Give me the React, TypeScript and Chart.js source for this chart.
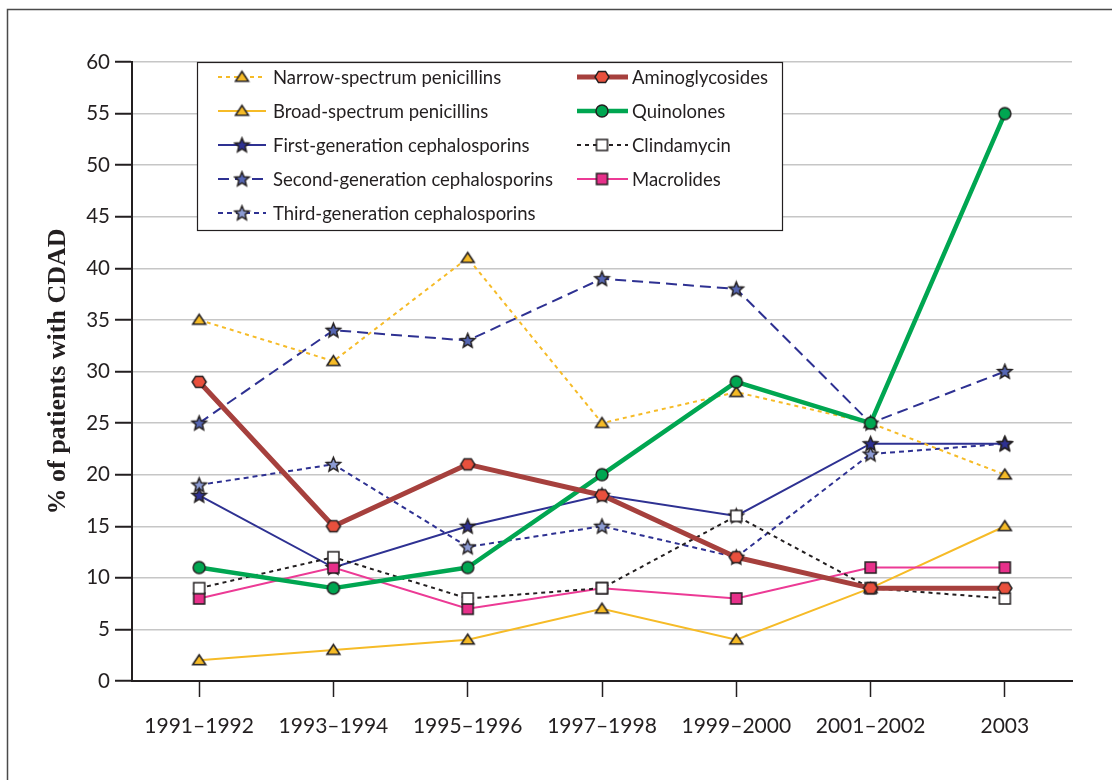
import React, { useEffect, useRef } from 'react';
import { Chart, registerables } from 'chart.js';
Chart.register(...registerables);

const categories = ['1991–1992', '1993–1994', '1995–1996', '1997–1998', '1999–2000', '2001–2002', '2003'];
const narrowPenicillins = [35, 31, 41, 25, 28, 25, 20];
const broadPenicillins = [2, 3, 4, 7, 4, 9, 15];
const firstGenCeph = [18, 11, 15, 18, 16, 23, 23];
const secondGenCeph = [25, 34, 33, 39, 38, 25, 30];
const thirdGenCeph = [19, 21, 13, 15, 12, 22, 23];
const aminoglycosides = [29, 15, 21, 18, 12, 9, 9];
const quinolones = [11, 9, 11, 20, 29, 25, 55];
const clindamycin = [9, 12, 8, 9, 16, 9, 8];
const macrolides = [8, 11, 7, 9, 8, 11, 11];
const yMin = 0;
const yMax = 60;
const yStep = 5;
const yTitle = '% of patients with CDAD';

const INK = '#231f20';

function makeMarker(shape: string, fill: string, size: number): HTMLCanvasElement {
  const c = document.createElement('canvas');
  const s = Math.ceil(size + 4);
  c.width = s;
  c.height = s;
  const ctx = c.getContext('2d')!;
  const cx = s / 2;
  const cy = s / 2;
  const r = size / 2;
  ctx.beginPath();
  if (shape === 'triangle') {
    ctx.moveTo(cx, cy - r * 0.85);
    ctx.lineTo(cx + r, cy + r * 0.65);
    ctx.lineTo(cx - r, cy + r * 0.65);
    ctx.closePath();
  } else if (shape === 'circle') {
    ctx.arc(cx, cy, r, 0, Math.PI * 2);
  } else if (shape === 'square') {
    ctx.rect(cx - r, cy - r, size, size);
  } else if (shape === 'hexagon') {
    for (let i = 0; i < 6; i++) {
      const a = (Math.PI / 3) * i;
      const x = cx + r * Math.cos(a);
      const y = cy + r * 0.92 * Math.sin(a);
      if (i === 0) ctx.moveTo(x, y);
      else ctx.lineTo(x, y);
    }
    ctx.closePath();
  } else if (shape === 'star') {
    const inner = r * 0.45;
    for (let i = 0; i < 10; i++) {
      const a = -Math.PI / 2 + (Math.PI / 5) * i;
      const rr = i % 2 === 0 ? r : inner;
      const x = cx + rr * Math.cos(a);
      const y = cy + 0.5 + rr * Math.sin(a);
      if (i === 0) ctx.moveTo(x, y);
      else ctx.lineTo(x, y);
    }
    ctx.closePath();
  }
  ctx.fillStyle = fill;
  ctx.fill();
  ctx.lineWidth = 1.5;
  ctx.lineJoin = 'miter';
  ctx.strokeStyle = INK;
  ctx.stroke();
  return c;
}

export default function App() {
  const ref = useRef<HTMLCanvasElement | null>(null);

  useEffect(() => {
    if (!ref.current) return;
    const yellow = '#F6BB27';
    const navy = '#2E3192';
    const mk = {
      tri: makeMarker('triangle', yellow, 13),
      star1: makeMarker('star', '#2E3192', 15),
      star2: makeMarker('star', '#5566B2', 15),
      star3: makeMarker('star', '#8C9BD3', 15),
      hex: makeMarker('hexagon', '#E9503D', 14),
      circ: makeMarker('circle', '#00A651', 12),
      sqW: makeMarker('square', '#ffffff', 11),
      sqP: makeMarker('square', '#E7308A', 11),
    };

    const base = { pointRadius: 7, pointHoverRadius: 7, tension: 0, fill: false, clip: false as any };

    const datasets: any[] = [
      { label: 'Narrow-spectrum penicillins', data: narrowPenicillins, borderColor: yellow, borderWidth: 2, borderDash: [4, 4], pointStyle: mk.tri, order: 6, ...base },
      { label: 'Broad-spectrum penicillins', data: broadPenicillins, borderColor: yellow, borderWidth: 2, pointStyle: mk.tri, order: 4, ...base },
      { label: 'First-generation cephalosporins', data: firstGenCeph, borderColor: navy, borderWidth: 2, pointStyle: mk.star1, order: 7, ...base },
      { label: 'Second-generation cephalosporins', data: secondGenCeph, borderColor: navy, borderWidth: 2, borderDash: [11, 6], pointStyle: mk.star2, order: 8, ...base },
      { label: 'Third-generation cephalosporins', data: thirdGenCeph, borderColor: navy, borderWidth: 2, borderDash: [5, 4], pointStyle: mk.star3, order: 9, ...base },
      { label: 'Aminoglycosides', data: aminoglycosides, borderColor: '#A6403D', borderWidth: 5, borderJoinStyle: 'round', pointStyle: mk.hex, order: 0, ...base },
      { label: 'Quinolones', data: quinolones, borderColor: '#00A651', borderWidth: 4.5, borderJoinStyle: 'round', pointStyle: mk.circ, order: 1, ...base },
      { label: 'Clindamycin', data: clindamycin, borderColor: INK, borderWidth: 2, borderDash: [4, 4], pointStyle: mk.sqW, order: 2, ...base },
      { label: 'Macrolides', data: macrolides, borderColor: '#EC3A95', borderWidth: 2, pointStyle: mk.sqP, order: 3, ...base },
    ];

    const framePlugin = {
      id: 'frame',
      beforeDraw(chart: any) {
        const ctx = chart.ctx;
        ctx.save();
        ctx.fillStyle = '#ffffff';
        ctx.fillRect(0, 0, chart.width, chart.height);
        ctx.strokeStyle = '#4a4a4a';
        ctx.lineWidth = 1.5;
        ctx.strokeRect(7.5, 9.5, 3000, 3000);
        ctx.restore();
      },
    };

    const legendPlugin = {
      id: 'boxLegend',
      afterDraw(chart: any) {
        const ctx = chart.ctx;
        const ds = chart.data.datasets;
        ctx.save();
        const bx = 197.5, by = 62.5, bw = 585, bh = 168;
        ctx.fillStyle = '#ffffff';
        ctx.fillRect(bx, by, bw, bh);
        ctx.strokeStyle = INK;
        ctx.lineWidth = 1.2;
        ctx.strokeRect(bx, by, bw, bh);
        const cols = [
          { items: [0, 1, 2, 3, 4], l0: 218, l1: 266, m: 242, t: 273 },
          { items: [5, 6, 7, 8], l0: 577, l1: 628, m: 602, t: 632 },
        ];
        ctx.font = '18.5px Lato';
        ctx.textBaseline = 'middle';
        ctx.textAlign = 'left';
        cols.forEach((col) => {
          col.items.forEach((idx, row) => {
            const d = ds[idx];
            const y = 77 + row * 34;
            ctx.beginPath();
            ctx.setLineDash(d.borderDash || []);
            ctx.lineWidth = d.borderWidth;
            ctx.strokeStyle = d.borderColor;
            ctx.moveTo(col.l0, y);
            ctx.lineTo(col.l1, y);
            ctx.stroke();
            ctx.setLineDash([]);
            const img = d.pointStyle as HTMLCanvasElement;
            ctx.drawImage(img, col.m - img.width / 2, y - img.height / 2);
            ctx.fillStyle = INK;
            ctx.fillText(d.label, col.t, y + 1);
          });
        });
        ctx.restore();
      },
    };

    const chart = new Chart(ref.current, {
      type: 'line',
      data: { labels: categories, datasets },
      plugins: [framePlugin, legendPlugin],
      options: {
        responsive: false,
        animation: false,
        events: [],
        layout: { padding: { left: 0, top: 62, right: 40, bottom: 0 } },
        plugins: { legend: { display: false }, tooltip: { enabled: false }, title: { display: false } },
        scales: {
          x: {
            type: 'category',
            offset: true,
            afterFit: (scale: any) => { scale.height = 99; },
            grid: { display: true, drawOnChartArea: false, drawTicks: true, tickLength: 16, tickColor: INK, tickWidth: 1.5 },
            border: { display: true, color: INK, width: 2 },
            ticks: { color: INK, font: { family: 'Lato', size: 21 }, padding: 17, maxRotation: 0, autoSkip: false },
          },
          y: {
            min: yMin,
            max: yMax,
            afterFit: (scale: any) => { scale.width = 132; },
            grid: { color: '#c6c6c6', lineWidth: 1.5, drawTicks: true, tickLength: 17, tickColor: INK, tickWidth: 2 },
            border: { display: true, color: INK, width: 2 },
            ticks: { stepSize: yStep, color: INK, font: { family: 'Lato', size: 20.5 }, padding: 5 },
            title: {
              display: true,
              text: yTitle,
              color: INK,
              font: { family: 'Liberation Serif', size: 26, weight: 'bold' },
              padding: { top: 43, bottom: 0 },
            },
          },
        },
      } as any,
    });
    return () => chart.destroy();
  }, []);

  return (
    <div style={{ position: 'fixed', left: 0, top: 0, width: 1112, height: 780, background: '#fff' }}>
      <canvas ref={ref} width={1112} height={780} style={{ display: 'block', width: 1112, height: 780 }} />
    </div>
  );
}
